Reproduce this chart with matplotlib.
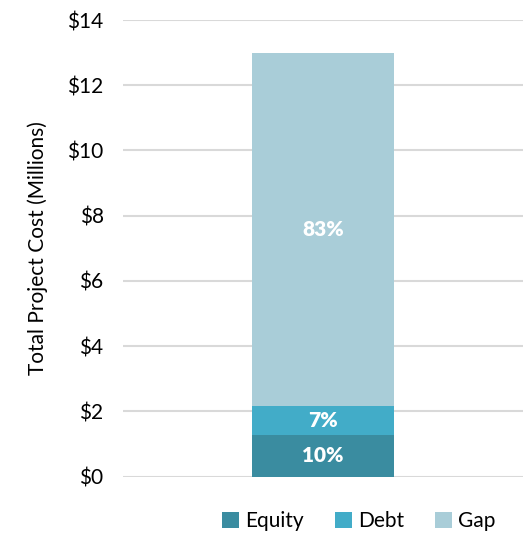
import matplotlib
matplotlib.use('Agg')
import matplotlib.pyplot as plt

plt.rcParams['font.family'] = ['Lato', 'DejaVu Sans']

# project funding, millions of dollars
SEGMENTS = ['Equity', 'Debt', 'Gap']
AMOUNTS = [1.26, 0.90, 10.84]
COLORS = ['#3a8ca0', '#42acc8', '#a9cdd8']
Y_TICKS = [0, 2, 4, 6, 8, 10, 12, 14]

fig = plt.figure(figsize=(5.29, 5.35), dpi=100)
ax = fig.add_axes([0.2325, 0.1093, 0.7565, 0.8533])

total = sum(AMOUNTS)
bottom = 0
for name, amt, col in zip(SEGMENTS, AMOUNTS, COLORS):
    ax.bar(0, amt, width=0.355, bottom=bottom, color=col, label=name, zorder=3)
    pct = round(amt / total * 100)
    ax.text(0, bottom + amt / 2, f'{pct}%', ha='center', va='center',
            color='white', fontsize=15, fontweight='heavy', zorder=4)
    bottom += amt

ax.set_xlim(-0.5, 0.5)
ax.set_ylim(0, 14)
ax.set_yticks(Y_TICKS)
ax.set_yticklabels([f'${v}' for v in Y_TICKS], fontsize=15)
ax.set_xticks([])
ax.tick_params(axis='y', length=0, pad=14)
ax.grid(axis='y', color='#d9d9d9', linewidth=1.5, zorder=0)
for s in ax.spines.values():
    s.set_visible(False)
ax.set_ylabel('Total Project Cost (Millions)', fontsize=15, labelpad=14)

ax.legend(loc='upper center', bbox_to_anchor=(0.59, -0.035), ncol=3, frameon=False,
          fontsize=15, handlelength=0.8, handleheight=0.8, handletextpad=0.3,
          columnspacing=1.5)

fig.savefig('out.png', dpi=100)
